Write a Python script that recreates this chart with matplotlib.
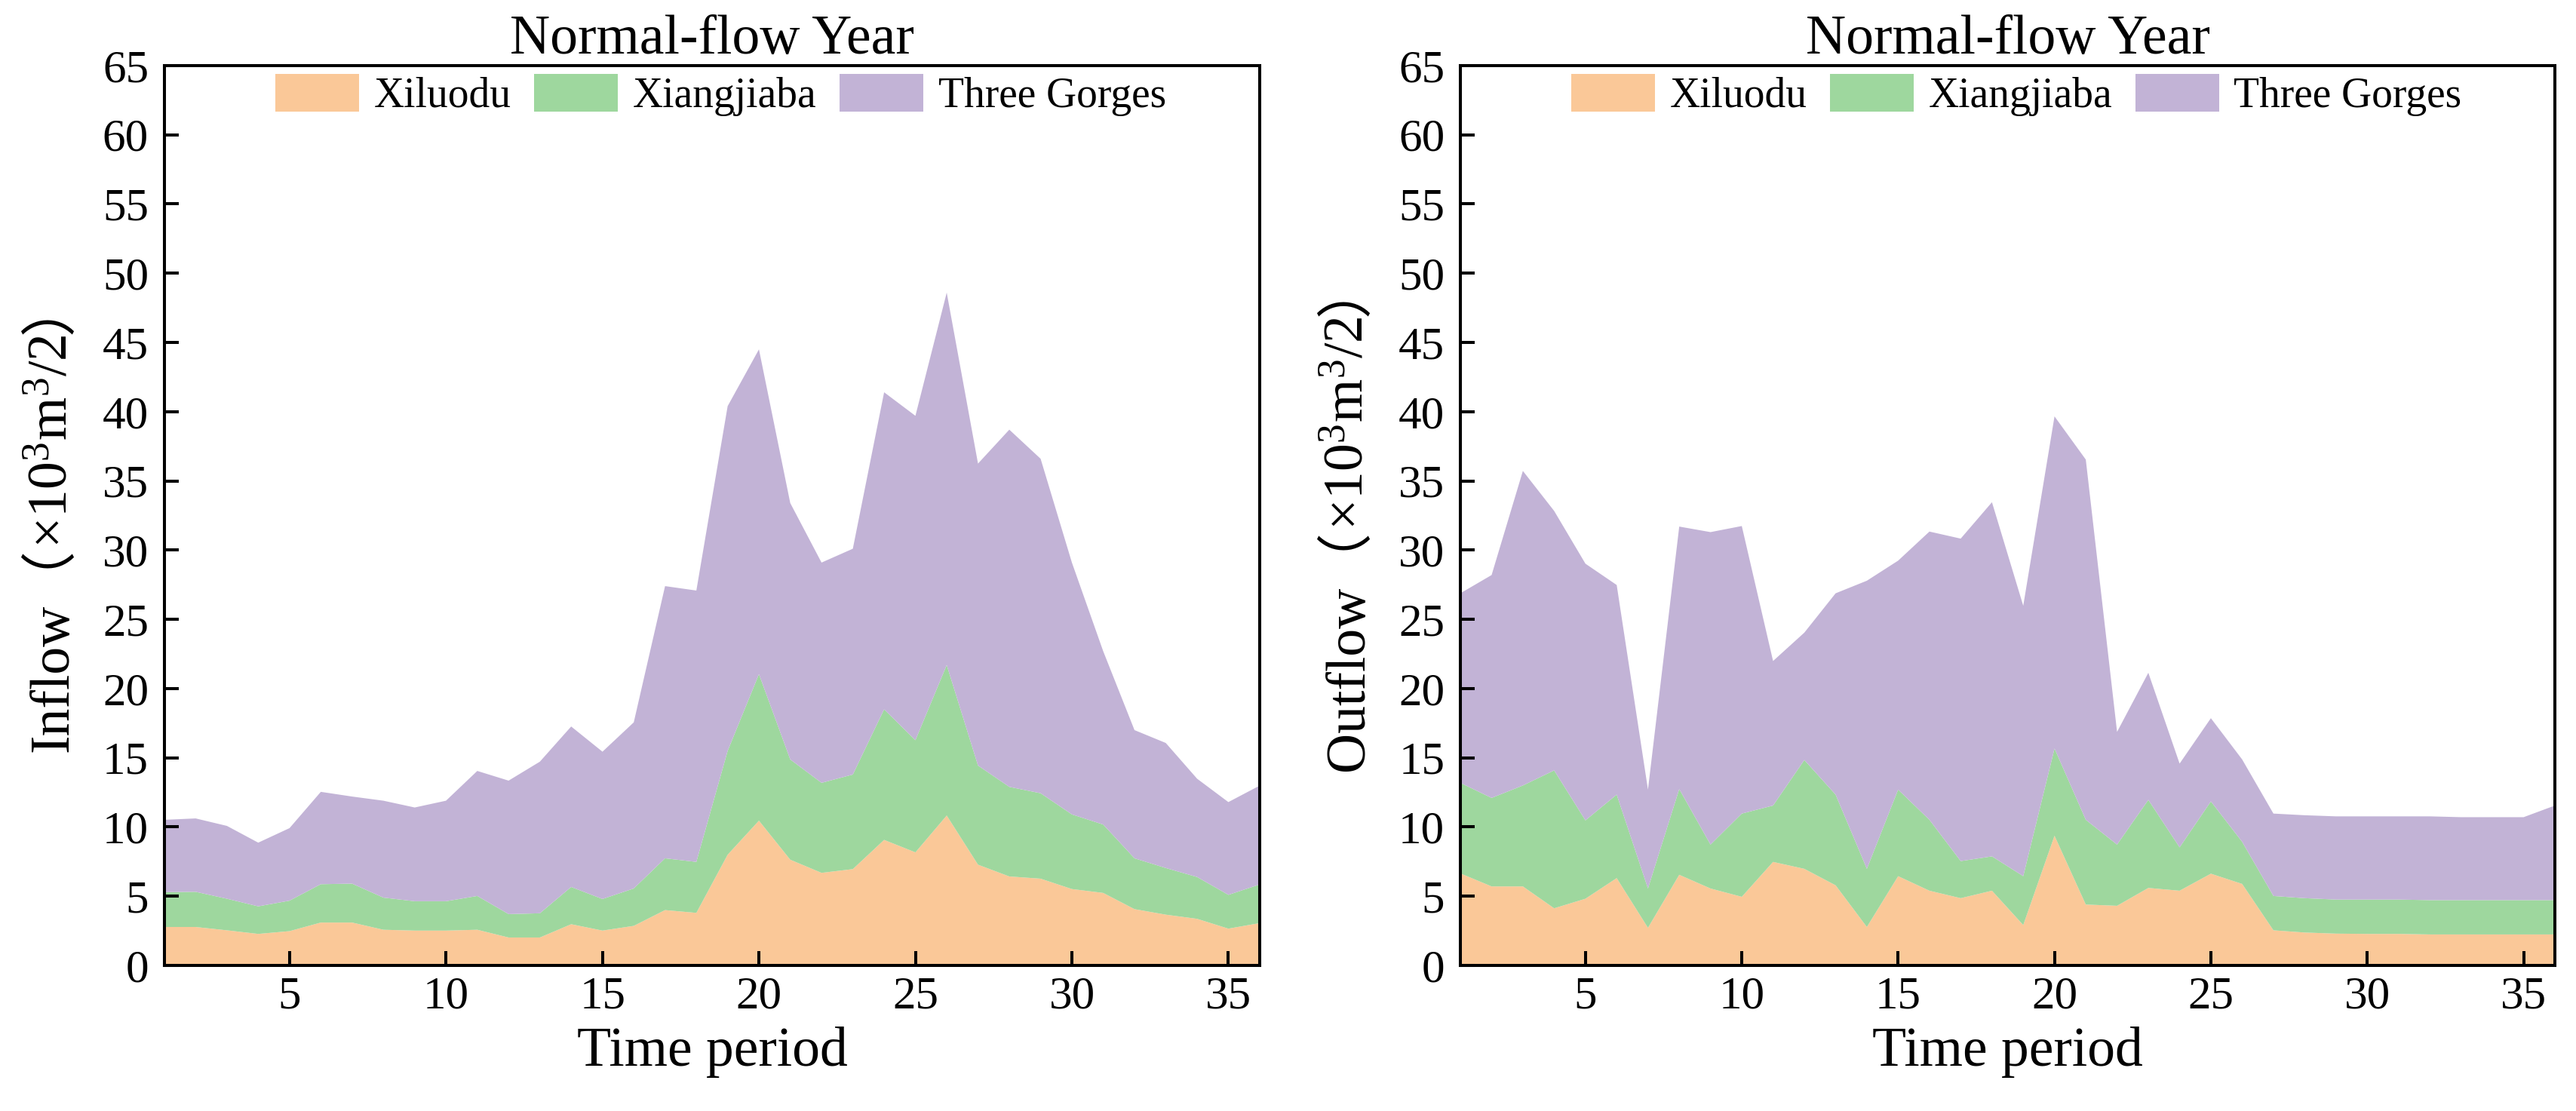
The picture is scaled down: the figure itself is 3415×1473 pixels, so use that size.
import numpy as np
import matplotlib
matplotlib.use("Agg")
import matplotlib.pyplot as plt
from matplotlib.transforms import IdentityTransform

plt.rcParams['font.family'] = ['Liberation Serif', 'Noto Sans CJK SC', 'DejaVu Sans']
plt.rcParams['mathtext.fontset'] = 'custom'
plt.rcParams['mathtext.rm'] = 'Liberation Serif'
plt.rcParams['mathtext.it'] = 'Liberation Serif:italic'
plt.rcParams['mathtext.bf'] = 'Liberation Serif:bold'
plt.rcParams['mathtext.default'] = 'regular'

periods = list(range(1, 37))
series_names = ["Xiluodu", "Xiangjiaba", "Three Gorges"]
colors = ["#FAC898", "#9ED79E", "#C2B3D6"]

inflow_xiluodu = [2.78, 2.78, 2.54, 2.28, 2.48, 3.10, 3.10, 2.58, 2.52, 2.52, 2.58, 2.02,
                  2.02, 2.98, 2.52, 2.86, 4.00, 3.80, 8.00, 10.46, 7.64, 6.69, 6.96, 9.07,
                  8.17, 10.83, 7.28, 6.43, 6.27, 5.52, 5.24, 4.07, 3.67, 3.37, 2.66, 3.06]
inflow_xiangjiaba = [2.52, 2.54, 2.28, 1.99, 2.20, 2.77, 2.81, 2.32, 2.12, 2.12, 2.44, 1.69,
                     1.75, 2.69, 2.28, 2.70, 3.74, 3.68, 7.50, 10.58, 7.24, 6.50, 6.83, 9.43,
                     8.10, 10.87, 7.16, 6.47, 6.17, 5.39, 4.94, 3.67, 3.37, 3.02, 2.44, 2.79]
inflow_threegorges = [5.22, 5.30, 5.26, 4.60, 5.24, 6.67, 6.29, 7.00, 6.77, 7.26, 9.03, 9.64,
                      10.95, 11.59, 10.64, 12.00, 19.66, 19.60, 24.90, 23.46, 18.52, 15.91, 16.31, 22.90,
                      23.43, 26.90, 21.81, 25.80, 24.16, 18.19, 12.52, 9.26, 9.03, 7.10, 6.70, 7.14]

outflow_xiluodu = [6.65, 5.71, 5.71, 4.13, 4.82, 6.31, 2.72, 6.55, 5.56, 4.96, 7.48, 6.98,
                   5.79, 2.78, 6.45, 5.40, 4.86, 5.40, 2.92, 9.37, 4.40, 4.31, 5.60, 5.40,
                   6.63, 5.89, 2.54, 2.38, 2.30, 2.28, 2.28, 2.24, 2.24, 2.24, 2.24, 2.24]
outflow_xiangjiaba = [6.54, 6.39, 7.29, 9.96, 5.66, 6.03, 2.84, 6.19, 3.17, 6.01, 4.07, 7.86,
                      6.55, 4.20, 6.25, 5.12, 2.68, 2.48, 3.53, 6.30, 6.12, 4.42, 6.36, 3.13,
                      5.22, 3.04, 2.48, 2.48, 2.46, 2.48, 2.48, 2.48, 2.48, 2.48, 2.48, 2.48]
outflow_threegorges = [13.69, 16.10, 22.72, 18.74, 18.54, 15.14, 7.14, 18.96, 22.57, 20.77, 10.44, 9.20,
                       14.54, 20.81, 16.54, 20.82, 23.29, 25.58, 19.53, 23.99, 26.02, 8.14, 9.18, 6.05,
                       6.01, 5.95, 5.95, 5.99, 6.01, 6.01, 6.01, 6.05, 5.99, 5.99, 5.99, 6.83]

titles = ["Normal-flow Year", "Normal-flow Year"]
ylabel_parts = [["Inflow\uff08", "\u00d710$^3$m$^3$/2", "\uff09"],
                ["Outflow\uff08", "\u00d710$^3$m$^3$/2", "\uff09"]]
xlabel = "Time period"
yticks = list(range(0, 70, 5))
xticks = list(range(5, 40, 5))

fig = plt.figure(figsize=(34.15, 14.73), dpi=100)
ax1 = fig.add_axes([0.0638, 0.131, 0.4252, 0.81])
ax2 = fig.add_axes([0.5669, 0.131, 0.4249, 0.81])
axes = [ax1, ax2]

datasets = [(inflow_xiluodu, inflow_xiangjiaba, inflow_threegorges),
            (outflow_xiluodu, outflow_xiangjiaba, outflow_threegorges)]

for ax, data, title in zip(axes, datasets, titles):
    ax.stackplot(periods, *data, labels=series_names, colors=colors, linewidth=0)
    ax.set_xlim(1, 36)
    ax.set_ylim(0, 65)
    ax.set_yticks(yticks)
    ax.set_xticks(xticks)
    ax.tick_params(axis='both', direction='in', length=13.7, width=2.9, labelsize=44)
    ax.tick_params(axis='y', pad=15)
    ax.tick_params(axis='x', pad=10)
    for sp in ax.spines.values():
        sp.set_linewidth(2.9)
    ax.set_title(title, fontsize=53, pad=11)
    ax.set_xlabel(xlabel, fontsize=53)
    ax.xaxis.set_label_coords(0.5, -0.068)
    ax.legend(loc='upper center', bbox_to_anchor=(0.508, 1.0), ncol=3, frameon=False,
              fontsize=40, handlelength=2.0, handleheight=1.0, handletextpad=0.35,
              columnspacing=0.55, borderaxespad=0.2, borderpad=0.0)

# vertical y-labels composed of pieces (CJK full-width brackets + math superscripts)
fig.canvas.draw()
renderer = fig.canvas.get_renderer()
for ax, parts in zip(axes, ylabel_parts):
    bb = ax.get_window_extent(renderer)
    x_base = bb.x0 - 129
    y_center = (bb.y0 + bb.y1) / 2
    texts = []
    lengths = []
    for s in parts:
        t = fig.text(0, 0, s, rotation=90, rotation_mode='anchor', ha='left',
                     va='baseline', fontsize=53, transform=IdentityTransform())
        ext = t.get_window_extent(renderer)
        texts.append(t)
        lengths.append(ext.height)
    y = y_center - sum(lengths) / 2
    for t, L in zip(texts, lengths):
        t.set_position((x_base, y))
        y += L

fig.savefig("out.png", dpi=100)
